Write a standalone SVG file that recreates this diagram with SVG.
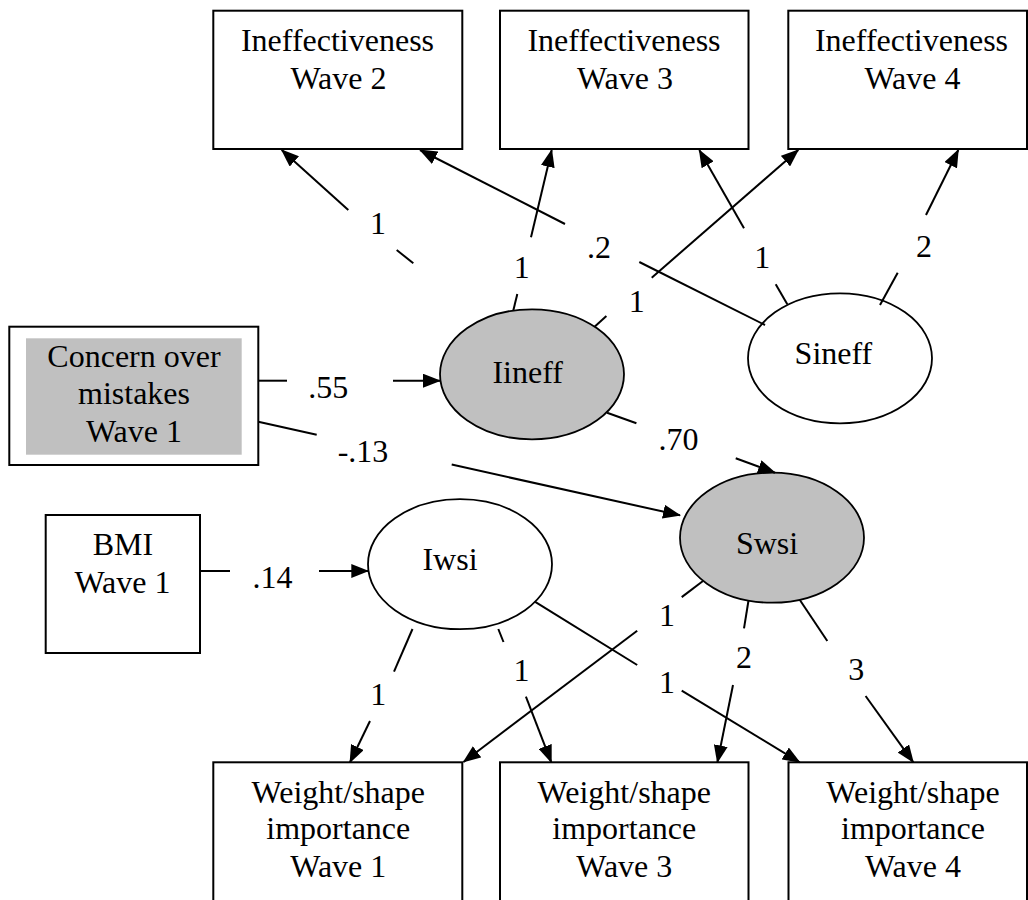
<svg xmlns="http://www.w3.org/2000/svg" width="1028" height="900" viewBox="0 0 1028 900">
<style>
.box{fill:#fff;stroke:#000;stroke-width:2}
.lat{stroke:#000;stroke-width:1.8}
.grey{fill:#c0c0c0}
.white{fill:#fff}
.c line{stroke:#000;stroke-width:2;fill:none}
.t{font-family:"Liberation Serif","Times New Roman",serif;font-size:32px;text-anchor:middle;fill:#000}
.a{marker-end:url(#ah)}
</style>
<defs>
<marker id="ah" markerUnits="userSpaceOnUse" markerWidth="18" markerHeight="14" refX="17" refY="7" orient="auto">
<path d="M0,0 L18,7 L0,14 z" fill="#000"/>
</marker>
</defs>
<rect width="1028" height="900" fill="#fff"/>

<g id="ineff_w2">
<rect class="box" x="213.3" y="10.7" width="249" height="138.3"/>
<text class="t" x="337.5" y="50.5">Ineffectiveness</text>
<text class="t" x="338.5" y="88.5">Wave 2</text>
</g>
<g id="ineff_w3">
<rect class="box" x="500" y="10.7" width="248.5" height="138.3"/>
<text class="t" x="624" y="50.5">Ineffectiveness</text>
<text class="t" x="625" y="88.5">Wave 3</text>
</g>
<g id="ineff_w4">
<rect class="box" x="788.3" y="10.7" width="238.7" height="138.3"/>
<text class="t" x="911.5" y="50.5">Ineffectiveness</text>
<text class="t" x="912.5" y="88.5">Wave 4</text>
</g>

<g id="com_w1">
<rect class="box" x="9.3" y="326.7" width="249" height="138.3"/>
<rect class="grey" x="26" y="338.3" width="215.7" height="116.4"/>
<text class="t" x="134" y="367.3">Concern over</text>
<text class="t" x="134" y="403.5">mistakes</text>
<text class="t" x="134" y="441.7">Wave 1</text>
</g>
<g id="bmi_w1">
<rect class="box" x="45.7" y="515" width="154.3" height="138"/>
<text class="t" x="123" y="555">BMI</text>
<text class="t" x="122.5" y="592.7">Wave 1</text>
</g>

<g id="iineff">
<ellipse class="lat grey" cx="532" cy="374.3" rx="92" ry="65"/>
<text class="t" x="527.7" y="382.7">Iineff</text>
</g>
<g id="sineff">
<ellipse class="lat white" cx="840" cy="358.3" rx="92" ry="65"/>
<text class="t" x="833.4" y="364.3">Sineff</text>
</g>
<g id="swsi">
<ellipse class="lat grey" cx="772" cy="537.7" rx="92" ry="65"/>
<text class="t" x="767" y="554">Swsi</text>
</g>
<g id="iwsi">
<ellipse class="lat white" cx="460" cy="564.2" rx="92" ry="65"/>
<text class="t" x="450" y="570">Iwsi</text>
</g>

<g id="ws_w1">
<rect class="box" x="213.3" y="762.3" width="249" height="150"/>
<text class="t" x="338.3" y="802.7">Weight/shape</text>
<text class="t" x="338.3" y="838.5">importance</text>
<text class="t" x="338.3" y="876.7">Wave 1</text>
</g>
<g id="ws_w3">
<rect class="box" x="500" y="762.3" width="248.5" height="150"/>
<text class="t" x="624.3" y="802.7">Weight/shape</text>
<text class="t" x="624.3" y="838.5">importance</text>
<text class="t" x="624.3" y="876.7">Wave 3</text>
</g>
<g id="ws_w4">
<rect class="box" x="788.5" y="762.3" width="238.5" height="150"/>
<text class="t" x="913" y="802.7">Weight/shape</text>
<text class="t" x="913" y="838.5">importance</text>
<text class="t" x="913" y="876.7">Wave 4</text>
</g>

<g id="connectors" class="c">
<line x1="413.3" y1="263.3" x2="396.7" y2="250"/>
<line class="a" x1="348.3" y1="210" x2="281.7" y2="150"/>
<line x1="765" y1="325" x2="639.3" y2="262"/>
<line class="a" x1="565" y1="224" x2="420" y2="150"/>
<line x1="513.3" y1="310.5" x2="517.3" y2="294"/>
<line class="a" x1="531" y1="237.3" x2="551.7" y2="150"/>
<line x1="594.6" y1="326.7" x2="606.4" y2="316"/>
<line class="a" x1="651.7" y1="277.7" x2="798.3" y2="150"/>
<line x1="787.3" y1="304.3" x2="775.7" y2="284.3"/>
<line class="a" x1="744" y1="228.3" x2="699.3" y2="150"/>
<line x1="880" y1="305" x2="897.7" y2="272.7"/>
<line class="a" x1="926" y1="215" x2="958.3" y2="150"/>

<line x1="258.3" y1="380.7" x2="287" y2="380.7"/>
<line class="a" x1="393" y1="380.7" x2="440" y2="380.7"/>
<line x1="258.3" y1="421.7" x2="316.7" y2="434.7"/>
<line class="a" x1="451.7" y1="464.6" x2="680" y2="515.3"/>
<line x1="607.1" y1="412.7" x2="636.4" y2="423.3"/>
<line class="a" x1="735.7" y1="458.3" x2="775" y2="472.7"/>
<line x1="200" y1="571" x2="230" y2="571"/>
<line class="a" x1="319" y1="571" x2="368.3" y2="571"/>

<line x1="412.5" y1="629" x2="394" y2="671.7"/>
<line class="a" x1="370" y1="721" x2="350" y2="762.3"/>
<line x1="703" y1="581" x2="681.7" y2="597.1"/>
<line class="a" x1="637.2" y1="630.7" x2="463.5" y2="762"/>
<line x1="498.3" y1="629" x2="503.5" y2="642"/>
<line class="a" x1="525.9" y1="696.7" x2="551.3" y2="762.3"/>
<line x1="534.8" y1="601.7" x2="637.2" y2="665"/>
<line class="a" x1="681.7" y1="690.7" x2="799.7" y2="762.3"/>
<line x1="748.5" y1="600.5" x2="744" y2="628.3"/>
<line class="a" x1="733" y1="685" x2="717.4" y2="762.3"/>
<line x1="799.7" y1="599.7" x2="827.3" y2="641"/>
<line class="a" x1="865.6" y1="696" x2="913.3" y2="762.3"/>

<g id="labels">
<text class="t" x="378" y="234">1</text>
<text class="t" x="599" y="258.3">.2</text>
<text class="t" x="521.7" y="278.3">1</text>
<text class="t" x="636.7" y="312.3">1</text>
<text class="t" x="762.3" y="268.3">1</text>
<text class="t" x="924" y="256.7">2</text>
<text class="t" x="328.3" y="398">.55</text>
<text class="t" x="363" y="462">-.13</text>
<text class="t" x="678.5" y="450">.70</text>
<text class="t" x="272.5" y="588.3">.14</text>
<text class="t" x="378.3" y="705">1</text>
<text class="t" x="667" y="626">1</text>
<text class="t" x="521.4" y="680.7">1</text>
<text class="t" x="667" y="692.7">1</text>
<text class="t" x="744" y="668.3">2</text>
<text class="t" x="856.3" y="680">3</text>
</g>
</g>
</svg>
